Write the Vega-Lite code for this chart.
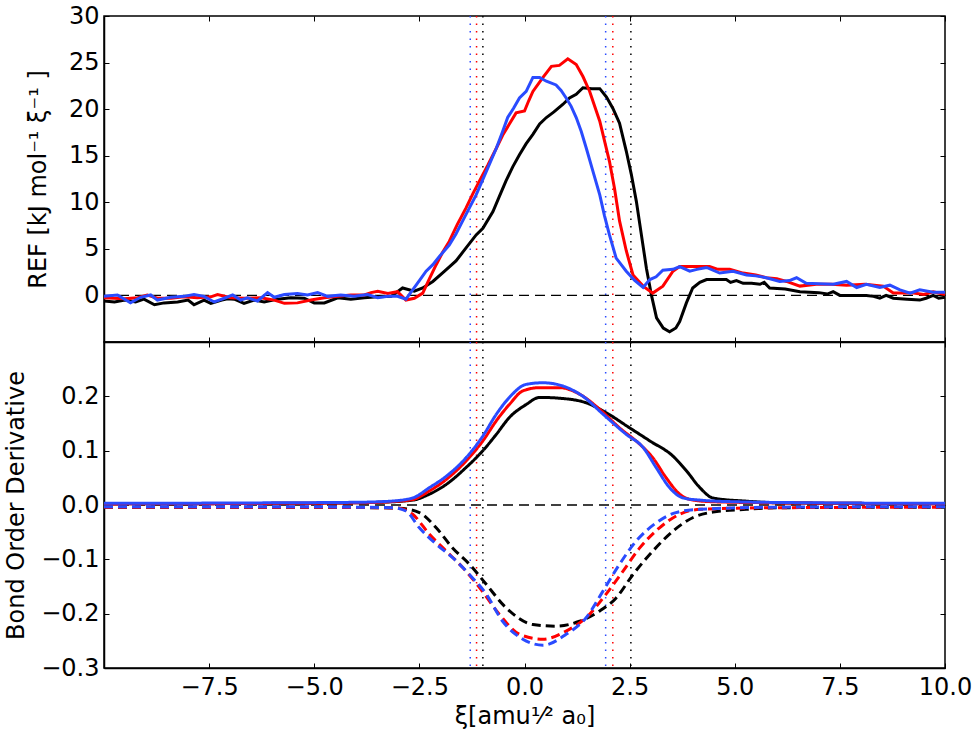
{
  "$schema": "https://vega.github.io/schema/vega-lite/v6.json",
  "background": "white",
  "padding": {"left": 3, "top": 3, "right": 30, "bottom": 5},
  "config": {
    "font": "DejaVu Sans",
    "view": {"stroke": "#000", "strokeWidth": 1.5},
    "axis": {
      "grid": false,
      "labelFont": "DejaVu Sans",
      "labelFontSize": 24,
      "labelColor": "#000",
      "labelPadding": 10,
      "labelFlush": false,
      "labelOverlap": false,
      "titleFont": "DejaVu Sans",
      "titleFontSize": 24,
      "titleFontWeight": "normal",
      "titleColor": "#000",
      "tickColor": "#000",
      "tickSize": -5,
      "tickWidth": 1,
      "domainColor": "#000",
      "domainWidth": 1.5
    },
    "legend": {"disable": true}
  },
  "datasets": {
    "vl": [
      {"x": -1.29, "s": "b"}, {"x": -1.14, "s": "r"}, {"x": -0.99, "s": "k"},
      {"x": 1.93, "s": "b"}, {"x": 2.1, "s": "r"}, {"x": 2.53, "s": "k"}
    ],
    "ref": [
      {"x": -10, "v": -0.6, "s": "k"}, {"x": -9.75, "v": -0.7, "s": "k"}, {"x": -9.5, "v": -0.5, "s": "k"}, {"x": -9.25, "v": -0.7, "s": "k"}, {"x": -9.05, "v": -0.4, "s": "k"}, {"x": -8.8, "v": -1.0, "s": "k"}, {"x": -8.57, "v": -0.8, "s": "k"}, {"x": -8.25, "v": -0.7, "s": "k"}, {"x": -8.0, "v": -0.5, "s": "k"}, {"x": -7.86, "v": -1.0, "s": "k"}, {"x": -7.62, "v": -0.5, "s": "k"}, {"x": -7.46, "v": -0.85, "s": "k"}, {"x": -7.2, "v": -0.5, "s": "k"}, {"x": -7.06, "v": -0.35, "s": "k"}, {"x": -6.9, "v": -0.4, "s": "k"}, {"x": -6.67, "v": -0.85, "s": "k"}, {"x": -6.43, "v": -0.5, "s": "k"}, {"x": -6.19, "v": -0.7, "s": "k"}, {"x": -5.87, "v": -0.4, "s": "k"}, {"x": -5.56, "v": -0.25, "s": "k"}, {"x": -5.24, "v": -0.3, "s": "k"}, {"x": -5.0, "v": -0.8, "s": "k"}, {"x": -4.76, "v": -0.8, "s": "k"}, {"x": -4.44, "v": -0.25, "s": "k"}, {"x": -4.13, "v": -0.4, "s": "k"}, {"x": -3.81, "v": -0.25, "s": "k"}, {"x": -3.49, "v": -0.15, "s": "k"}, {"x": -3.17, "v": -0.1, "s": "k"}, {"x": -2.9, "v": 0.8, "s": "k"}, {"x": -2.62, "v": 0.45, "s": "k"}, {"x": -2.42, "v": 0.8, "s": "k"}, {"x": -2.18, "v": 1.5, "s": "k"}, {"x": -1.9, "v": 2.6, "s": "k"}, {"x": -1.63, "v": 3.7, "s": "k"}, {"x": -1.39, "v": 5.1, "s": "k"}, {"x": -1.15, "v": 6.5, "s": "k"}, {"x": -0.99, "v": 7.2, "s": "k"}, {"x": -0.75, "v": 9.0, "s": "k"}, {"x": -0.6, "v": 10.6, "s": "k"}, {"x": -0.44, "v": 12.3, "s": "k"}, {"x": -0.28, "v": 13.8, "s": "k"}, {"x": -0.12, "v": 15.1, "s": "k"}, {"x": 0.04, "v": 16.3, "s": "k"}, {"x": 0.2, "v": 17.3, "s": "k"}, {"x": 0.36, "v": 18.4, "s": "k"}, {"x": 0.52, "v": 19.1, "s": "k"}, {"x": 0.7, "v": 19.7, "s": "k"}, {"x": 0.91, "v": 20.5, "s": "k"}, {"x": 1.07, "v": 21.2, "s": "k"}, {"x": 1.23, "v": 21.6, "s": "k"}, {"x": 1.39, "v": 22.3, "s": "k"}, {"x": 1.6, "v": 22.2, "s": "k"}, {"x": 1.79, "v": 22.2, "s": "k"}, {"x": 1.95, "v": 21.3, "s": "k"}, {"x": 2.1, "v": 20.1, "s": "k"}, {"x": 2.26, "v": 18.5, "s": "k"}, {"x": 2.42, "v": 15.5, "s": "k"}, {"x": 2.54, "v": 13.0, "s": "k"}, {"x": 2.66, "v": 10.1, "s": "k"}, {"x": 2.78, "v": 6.5, "s": "k"}, {"x": 2.9, "v": 2.9, "s": "k"}, {"x": 3.02, "v": 0.0, "s": "k"}, {"x": 3.14, "v": -2.4, "s": "k"}, {"x": 3.3, "v": -3.5, "s": "k"}, {"x": 3.45, "v": -3.9, "s": "k"}, {"x": 3.6, "v": -3.5, "s": "k"}, {"x": 3.69, "v": -2.8, "s": "k"}, {"x": 3.85, "v": -0.8, "s": "k"}, {"x": 4.0, "v": 0.8, "s": "k"}, {"x": 4.17, "v": 1.4, "s": "k"}, {"x": 4.33, "v": 1.7, "s": "k"}, {"x": 4.8, "v": 1.7, "s": "k"}, {"x": 4.9, "v": 1.4, "s": "k"}, {"x": 5.04, "v": 1.6, "s": "k"}, {"x": 5.2, "v": 1.3, "s": "k"}, {"x": 5.4, "v": 1.3, "s": "k"}, {"x": 5.6, "v": 1.2, "s": "k"}, {"x": 5.7, "v": 1.4, "s": "k"}, {"x": 5.83, "v": 0.8, "s": "k"}, {"x": 6.2, "v": 0.7, "s": "k"}, {"x": 6.55, "v": 0.4, "s": "k"}, {"x": 7.0, "v": 0.3, "s": "k"}, {"x": 7.2, "v": 0.15, "s": "k"}, {"x": 7.34, "v": 0.4, "s": "k"}, {"x": 7.5, "v": 0.0, "s": "k"}, {"x": 8.13, "v": 0.0, "s": "k"}, {"x": 8.3, "v": -0.1, "s": "k"}, {"x": 8.45, "v": -0.3, "s": "k"}, {"x": 8.6, "v": 0.0, "s": "k"}, {"x": 8.77, "v": -0.3, "s": "k"}, {"x": 9.1, "v": -0.4, "s": "k"}, {"x": 9.4, "v": -0.5, "s": "k"}, {"x": 9.55, "v": -0.3, "s": "k"}, {"x": 9.72, "v": 0.0, "s": "k"}, {"x": 9.85, "v": -0.3, "s": "k"}, {"x": 10, "v": -0.2, "s": "k"},
      {"x": -10, "v": -0.25, "s": "r"}, {"x": -9.75, "v": -0.3, "s": "r"}, {"x": -9.52, "v": -0.35, "s": "r"}, {"x": -9.2, "v": -0.25, "s": "r"}, {"x": -8.97, "v": 0.05, "s": "r"}, {"x": -8.73, "v": -0.3, "s": "r"}, {"x": -8.41, "v": -0.3, "s": "r"}, {"x": -8.1, "v": -0.15, "s": "r"}, {"x": -7.78, "v": -0.25, "s": "r"}, {"x": -7.46, "v": -0.15, "s": "r"}, {"x": -7.3, "v": 0.1, "s": "r"}, {"x": -6.98, "v": -0.25, "s": "r"}, {"x": -6.67, "v": -0.3, "s": "r"}, {"x": -6.27, "v": -0.25, "s": "r"}, {"x": -5.95, "v": -0.5, "s": "r"}, {"x": -5.71, "v": -0.85, "s": "r"}, {"x": -5.4, "v": -0.8, "s": "r"}, {"x": -5.08, "v": -0.5, "s": "r"}, {"x": -4.76, "v": -0.25, "s": "r"}, {"x": -4.44, "v": -0.1, "s": "r"}, {"x": -4.13, "v": 0.05, "s": "r"}, {"x": -3.81, "v": 0.05, "s": "r"}, {"x": -3.65, "v": 0.3, "s": "r"}, {"x": -3.49, "v": 0.45, "s": "r"}, {"x": -3.25, "v": 0.2, "s": "r"}, {"x": -3.02, "v": 0.4, "s": "r"}, {"x": -2.82, "v": -0.5, "s": "r"}, {"x": -2.62, "v": -0.3, "s": "r"}, {"x": -2.42, "v": 0.25, "s": "r"}, {"x": -2.26, "v": 1.8, "s": "r"}, {"x": -2.1, "v": 3.3, "s": "r"}, {"x": -1.95, "v": 4.6, "s": "r"}, {"x": -1.79, "v": 5.8, "s": "r"}, {"x": -1.6, "v": 7.6, "s": "r"}, {"x": -1.39, "v": 9.4, "s": "r"}, {"x": -1.23, "v": 10.9, "s": "r"}, {"x": -1.07, "v": 12.3, "s": "r"}, {"x": -0.87, "v": 14.0, "s": "r"}, {"x": -0.67, "v": 15.8, "s": "r"}, {"x": -0.52, "v": 17.2, "s": "r"}, {"x": -0.36, "v": 18.4, "s": "r"}, {"x": -0.2, "v": 19.6, "s": "r"}, {"x": 0.0, "v": 19.8, "s": "r"}, {"x": 0.1, "v": 20.9, "s": "r"}, {"x": 0.2, "v": 21.9, "s": "r"}, {"x": 0.44, "v": 23.4, "s": "r"}, {"x": 0.64, "v": 24.6, "s": "r"}, {"x": 0.83, "v": 24.7, "s": "r"}, {"x": 1.03, "v": 25.4, "s": "r"}, {"x": 1.23, "v": 24.8, "s": "r"}, {"x": 1.39, "v": 23.5, "s": "r"}, {"x": 1.55, "v": 21.9, "s": "r"}, {"x": 1.79, "v": 18.7, "s": "r"}, {"x": 2.02, "v": 14.4, "s": "r"}, {"x": 2.14, "v": 11.5, "s": "r"}, {"x": 2.26, "v": 8.0, "s": "r"}, {"x": 2.42, "v": 4.8, "s": "r"}, {"x": 2.58, "v": 2.2, "s": "r"}, {"x": 2.82, "v": 1.0, "s": "r"}, {"x": 3.05, "v": 0.25, "s": "r"}, {"x": 3.29, "v": 1.0, "s": "r"}, {"x": 3.53, "v": 2.6, "s": "r"}, {"x": 3.69, "v": 3.1, "s": "r"}, {"x": 4.4, "v": 3.1, "s": "r"}, {"x": 4.6, "v": 2.8, "s": "r"}, {"x": 4.88, "v": 2.8, "s": "r"}, {"x": 5.2, "v": 2.4, "s": "r"}, {"x": 5.5, "v": 2.2, "s": "r"}, {"x": 5.75, "v": 1.9, "s": "r"}, {"x": 6.0, "v": 1.8, "s": "r"}, {"x": 6.23, "v": 1.5, "s": "r"}, {"x": 6.55, "v": 1.0, "s": "r"}, {"x": 6.94, "v": 1.2, "s": "r"}, {"x": 7.3, "v": 1.2, "s": "r"}, {"x": 7.66, "v": 1.1, "s": "r"}, {"x": 8.1, "v": 1.2, "s": "r"}, {"x": 8.53, "v": 1.0, "s": "r"}, {"x": 8.77, "v": 0.25, "s": "r"}, {"x": 9.25, "v": 0.25, "s": "r"}, {"x": 9.5, "v": 0.1, "s": "r"}, {"x": 9.72, "v": 0.4, "s": "r"}, {"x": 10, "v": 0.1, "s": "r"},
      {"x": -10, "v": -0.1, "s": "b"}, {"x": -9.68, "v": 0.05, "s": "b"}, {"x": -9.37, "v": -0.8, "s": "b"}, {"x": -9.13, "v": -0.2, "s": "b"}, {"x": -8.89, "v": 0.05, "s": "b"}, {"x": -8.73, "v": -0.5, "s": "b"}, {"x": -8.41, "v": -0.2, "s": "b"}, {"x": -8.1, "v": -0.1, "s": "b"}, {"x": -7.86, "v": 0.1, "s": "b"}, {"x": -7.62, "v": -0.1, "s": "b"}, {"x": -7.38, "v": -0.7, "s": "b"}, {"x": -7.14, "v": -0.3, "s": "b"}, {"x": -6.94, "v": 0.05, "s": "b"}, {"x": -6.75, "v": -0.5, "s": "b"}, {"x": -6.59, "v": -0.25, "s": "b"}, {"x": -6.35, "v": -0.6, "s": "b"}, {"x": -6.11, "v": 0.3, "s": "b"}, {"x": -5.95, "v": -0.2, "s": "b"}, {"x": -5.71, "v": 0.1, "s": "b"}, {"x": -5.4, "v": 0.2, "s": "b"}, {"x": -5.16, "v": 0.05, "s": "b"}, {"x": -4.92, "v": 0.3, "s": "b"}, {"x": -4.68, "v": -0.1, "s": "b"}, {"x": -4.37, "v": 0.05, "s": "b"}, {"x": -4.05, "v": -0.1, "s": "b"}, {"x": -3.73, "v": 0.1, "s": "b"}, {"x": -3.49, "v": -0.25, "s": "b"}, {"x": -3.25, "v": -0.1, "s": "b"}, {"x": -3.02, "v": -0.1, "s": "b"}, {"x": -2.82, "v": -0.4, "s": "b"}, {"x": -2.66, "v": 0.6, "s": "b"}, {"x": -2.5, "v": 1.6, "s": "b"}, {"x": -2.34, "v": 2.6, "s": "b"}, {"x": -2.18, "v": 3.3, "s": "b"}, {"x": -2.02, "v": 4.2, "s": "b"}, {"x": -1.79, "v": 5.4, "s": "b"}, {"x": -1.63, "v": 6.6, "s": "b"}, {"x": -1.47, "v": 8.0, "s": "b"}, {"x": -1.31, "v": 9.4, "s": "b"}, {"x": -1.15, "v": 10.8, "s": "b"}, {"x": -0.91, "v": 13.3, "s": "b"}, {"x": -0.67, "v": 15.8, "s": "b"}, {"x": -0.52, "v": 17.6, "s": "b"}, {"x": -0.4, "v": 19.1, "s": "b"}, {"x": -0.26, "v": 20.1, "s": "b"}, {"x": -0.12, "v": 21.2, "s": "b"}, {"x": 0.04, "v": 21.9, "s": "b"}, {"x": 0.2, "v": 23.4, "s": "b"}, {"x": 0.36, "v": 23.4, "s": "b"}, {"x": 0.52, "v": 23.0, "s": "b"}, {"x": 0.75, "v": 22.6, "s": "b"}, {"x": 0.87, "v": 22.0, "s": "b"}, {"x": 0.99, "v": 21.2, "s": "b"}, {"x": 1.11, "v": 20.3, "s": "b"}, {"x": 1.23, "v": 19.1, "s": "b"}, {"x": 1.35, "v": 17.6, "s": "b"}, {"x": 1.47, "v": 15.8, "s": "b"}, {"x": 1.63, "v": 13.3, "s": "b"}, {"x": 1.79, "v": 10.8, "s": "b"}, {"x": 1.9, "v": 8.6, "s": "b"}, {"x": 2.02, "v": 6.5, "s": "b"}, {"x": 2.18, "v": 4.0, "s": "b"}, {"x": 2.42, "v": 2.6, "s": "b"}, {"x": 2.62, "v": 1.6, "s": "b"}, {"x": 2.82, "v": 0.85, "s": "b"}, {"x": 2.98, "v": 1.7, "s": "b"}, {"x": 3.13, "v": 2.0, "s": "b"}, {"x": 3.29, "v": 2.7, "s": "b"}, {"x": 3.53, "v": 2.8, "s": "b"}, {"x": 3.69, "v": 3.1, "s": "b"}, {"x": 3.93, "v": 2.6, "s": "b"}, {"x": 4.1, "v": 2.8, "s": "b"}, {"x": 4.33, "v": 3.0, "s": "b"}, {"x": 4.64, "v": 2.4, "s": "b"}, {"x": 4.96, "v": 2.6, "s": "b"}, {"x": 5.28, "v": 2.2, "s": "b"}, {"x": 5.5, "v": 2.1, "s": "b"}, {"x": 5.75, "v": 1.9, "s": "b"}, {"x": 6.07, "v": 1.5, "s": "b"}, {"x": 6.3, "v": 1.6, "s": "b"}, {"x": 6.47, "v": 1.9, "s": "b"}, {"x": 6.7, "v": 1.3, "s": "b"}, {"x": 7.0, "v": 1.25, "s": "b"}, {"x": 7.34, "v": 1.2, "s": "b"}, {"x": 7.66, "v": 1.5, "s": "b"}, {"x": 7.9, "v": 0.85, "s": "b"}, {"x": 8.13, "v": 1.2, "s": "b"}, {"x": 8.45, "v": 0.85, "s": "b"}, {"x": 8.69, "v": 1.1, "s": "b"}, {"x": 8.93, "v": 0.6, "s": "b"}, {"x": 9.17, "v": 0.25, "s": "b"}, {"x": 9.4, "v": 0.6, "s": "b"}, {"x": 9.72, "v": 0.35, "s": "b"}, {"x": 10, "v": 0.35, "s": "b"}
    ],
    "bo": [
      {"x": -10, "v": 0.002, "s": "k", "p": "pos"}, {"x": -6, "v": 0.003, "s": "k", "p": "pos"}, {"x": -4, "v": 0.004, "s": "k", "p": "pos"}, {"x": -3.45, "v": 0.005, "s": "k", "p": "pos"}, {"x": -2.66, "v": 0.009, "s": "k", "p": "pos"}, {"x": -2.26, "v": 0.02, "s": "k", "p": "pos"}, {"x": -1.86, "v": 0.038, "s": "k", "p": "pos"}, {"x": -1.39, "v": 0.069, "s": "k", "p": "pos"}, {"x": -0.99, "v": 0.1, "s": "k", "p": "pos"}, {"x": -0.67, "v": 0.13, "s": "k", "p": "pos"}, {"x": -0.36, "v": 0.161, "s": "k", "p": "pos"}, {"x": 0.04, "v": 0.185, "s": "k", "p": "pos"}, {"x": 0.36, "v": 0.198, "s": "k", "p": "pos"}, {"x": 0.91, "v": 0.196, "s": "k", "p": "pos"}, {"x": 1.47, "v": 0.188, "s": "k", "p": "pos"}, {"x": 1.94, "v": 0.17, "s": "k", "p": "pos"}, {"x": 2.5, "v": 0.142, "s": "k", "p": "pos"}, {"x": 2.98, "v": 0.118, "s": "k", "p": "pos"}, {"x": 3.53, "v": 0.09, "s": "k", "p": "pos"}, {"x": 3.85, "v": 0.063, "s": "k", "p": "pos"}, {"x": 4.17, "v": 0.032, "s": "k", "p": "pos"}, {"x": 4.48, "v": 0.013, "s": "k", "p": "pos"}, {"x": 5.28, "v": 0.007, "s": "k", "p": "pos"}, {"x": 6.07, "v": 0.004, "s": "k", "p": "pos"}, {"x": 8, "v": 0.003, "s": "k", "p": "pos"}, {"x": 10, "v": 0.002, "s": "k", "p": "pos"},
      {"x": -10, "v": -0.004, "s": "k", "p": "neg"}, {"x": -6, "v": -0.004, "s": "k", "p": "neg"}, {"x": -3.45, "v": -0.005, "s": "k", "p": "neg"}, {"x": -2.98, "v": -0.006, "s": "k", "p": "neg"}, {"x": -2.5, "v": -0.014, "s": "k", "p": "neg"}, {"x": -2.1, "v": -0.042, "s": "k", "p": "neg"}, {"x": -1.71, "v": -0.079, "s": "k", "p": "neg"}, {"x": -1.31, "v": -0.109, "s": "k", "p": "neg"}, {"x": -0.91, "v": -0.146, "s": "k", "p": "neg"}, {"x": -0.44, "v": -0.189, "s": "k", "p": "neg"}, {"x": 0.2, "v": -0.22, "s": "k", "p": "neg"}, {"x": 0.75, "v": -0.223, "s": "k", "p": "neg"}, {"x": 1.31, "v": -0.214, "s": "k", "p": "neg"}, {"x": 1.79, "v": -0.195, "s": "k", "p": "neg"}, {"x": 2.18, "v": -0.171, "s": "k", "p": "neg"}, {"x": 2.58, "v": -0.128, "s": "k", "p": "neg"}, {"x": 3.05, "v": -0.085, "s": "k", "p": "neg"}, {"x": 3.53, "v": -0.048, "s": "k", "p": "neg"}, {"x": 4.01, "v": -0.023, "s": "k", "p": "neg"}, {"x": 4.48, "v": -0.013, "s": "k", "p": "neg"}, {"x": 5.28, "v": -0.008, "s": "k", "p": "neg"}, {"x": 6.07, "v": -0.005, "s": "k", "p": "neg"}, {"x": 10, "v": -0.004, "s": "k", "p": "neg"},
      {"x": -10, "v": 0.002, "s": "r", "p": "pos"}, {"x": -6, "v": 0.003, "s": "r", "p": "pos"}, {"x": -4, "v": 0.004, "s": "r", "p": "pos"}, {"x": -3.2, "v": 0.006, "s": "r", "p": "pos"}, {"x": -2.66, "v": 0.01, "s": "r", "p": "pos"}, {"x": -2.26, "v": 0.026, "s": "r", "p": "pos"}, {"x": -1.86, "v": 0.047, "s": "r", "p": "pos"}, {"x": -1.39, "v": 0.081, "s": "r", "p": "pos"}, {"x": -0.99, "v": 0.118, "s": "r", "p": "pos"}, {"x": -0.67, "v": 0.155, "s": "r", "p": "pos"}, {"x": -0.36, "v": 0.185, "s": "r", "p": "pos"}, {"x": -0.04, "v": 0.21, "s": "r", "p": "pos"}, {"x": 0.36, "v": 0.216, "s": "r", "p": "pos"}, {"x": 0.83, "v": 0.216, "s": "r", "p": "pos"}, {"x": 1.31, "v": 0.204, "s": "r", "p": "pos"}, {"x": 1.79, "v": 0.176, "s": "r", "p": "pos"}, {"x": 2.26, "v": 0.142, "s": "r", "p": "pos"}, {"x": 2.74, "v": 0.112, "s": "r", "p": "pos"}, {"x": 3.05, "v": 0.087, "s": "r", "p": "pos"}, {"x": 3.37, "v": 0.05, "s": "r", "p": "pos"}, {"x": 3.69, "v": 0.02, "s": "r", "p": "pos"}, {"x": 4.01, "v": 0.009, "s": "r", "p": "pos"}, {"x": 4.48, "v": 0.006, "s": "r", "p": "pos"}, {"x": 6, "v": 0.004, "s": "r", "p": "pos"}, {"x": 8, "v": 0.003, "s": "r", "p": "pos"}, {"x": 10, "v": 0.002, "s": "r", "p": "pos"},
      {"x": -10, "v": -0.004, "s": "r", "p": "neg"}, {"x": -6, "v": -0.004, "s": "r", "p": "neg"}, {"x": -3.3, "v": -0.005, "s": "r", "p": "neg"}, {"x": -2.98, "v": -0.006, "s": "r", "p": "neg"}, {"x": -2.66, "v": -0.017, "s": "r", "p": "neg"}, {"x": -2.26, "v": -0.054, "s": "r", "p": "neg"}, {"x": -1.86, "v": -0.085, "s": "r", "p": "neg"}, {"x": -1.47, "v": -0.115, "s": "r", "p": "neg"}, {"x": -1.07, "v": -0.152, "s": "r", "p": "neg"}, {"x": -0.6, "v": -0.201, "s": "r", "p": "neg"}, {"x": -0.12, "v": -0.238, "s": "r", "p": "neg"}, {"x": 0.44, "v": -0.247, "s": "r", "p": "neg"}, {"x": 0.99, "v": -0.232, "s": "r", "p": "neg"}, {"x": 1.47, "v": -0.207, "s": "r", "p": "neg"}, {"x": 1.94, "v": -0.164, "s": "r", "p": "neg"}, {"x": 2.34, "v": -0.122, "s": "r", "p": "neg"}, {"x": 2.74, "v": -0.079, "s": "r", "p": "neg"}, {"x": 3.21, "v": -0.042, "s": "r", "p": "neg"}, {"x": 3.69, "v": -0.017, "s": "r", "p": "neg"}, {"x": 4.17, "v": -0.008, "s": "r", "p": "neg"}, {"x": 6, "v": -0.005, "s": "r", "p": "neg"}, {"x": 10, "v": -0.004, "s": "r", "p": "neg"},
      {"x": -10, "v": 0.003, "s": "b", "p": "pos"}, {"x": -6, "v": 0.004, "s": "b", "p": "pos"}, {"x": -4, "v": 0.005, "s": "b", "p": "pos"}, {"x": -3.2, "v": 0.007, "s": "b", "p": "pos"}, {"x": -2.66, "v": 0.013, "s": "b", "p": "pos"}, {"x": -2.26, "v": 0.032, "s": "b", "p": "pos"}, {"x": -1.86, "v": 0.053, "s": "b", "p": "pos"}, {"x": -1.39, "v": 0.087, "s": "b", "p": "pos"}, {"x": -0.99, "v": 0.127, "s": "b", "p": "pos"}, {"x": -0.67, "v": 0.167, "s": "b", "p": "pos"}, {"x": -0.36, "v": 0.198, "s": "b", "p": "pos"}, {"x": 0.04, "v": 0.222, "s": "b", "p": "pos"}, {"x": 0.44, "v": 0.225, "s": "b", "p": "pos"}, {"x": 0.91, "v": 0.219, "s": "b", "p": "pos"}, {"x": 1.39, "v": 0.2, "s": "b", "p": "pos"}, {"x": 1.87, "v": 0.167, "s": "b", "p": "pos"}, {"x": 2.42, "v": 0.13, "s": "b", "p": "pos"}, {"x": 2.82, "v": 0.106, "s": "b", "p": "pos"}, {"x": 3.13, "v": 0.069, "s": "b", "p": "pos"}, {"x": 3.45, "v": 0.032, "s": "b", "p": "pos"}, {"x": 3.77, "v": 0.013, "s": "b", "p": "pos"}, {"x": 4.17, "v": 0.009, "s": "b", "p": "pos"}, {"x": 5, "v": 0.006, "s": "b", "p": "pos"}, {"x": 7, "v": 0.004, "s": "b", "p": "pos"}, {"x": 10, "v": 0.003, "s": "b", "p": "pos"},
      {"x": -10, "v": -0.003, "s": "b", "p": "neg"}, {"x": -6, "v": -0.003, "s": "b", "p": "neg"}, {"x": -3.13, "v": -0.005, "s": "b", "p": "neg"}, {"x": -2.82, "v": -0.011, "s": "b", "p": "neg"}, {"x": -2.5, "v": -0.042, "s": "b", "p": "neg"}, {"x": -2.1, "v": -0.072, "s": "b", "p": "neg"}, {"x": -1.71, "v": -0.097, "s": "b", "p": "neg"}, {"x": -1.31, "v": -0.128, "s": "b", "p": "neg"}, {"x": -0.91, "v": -0.164, "s": "b", "p": "neg"}, {"x": -0.52, "v": -0.214, "s": "b", "p": "neg"}, {"x": -0.04, "v": -0.247, "s": "b", "p": "neg"}, {"x": 0.44, "v": -0.258, "s": "b", "p": "neg"}, {"x": 0.99, "v": -0.238, "s": "b", "p": "neg"}, {"x": 1.47, "v": -0.207, "s": "b", "p": "neg"}, {"x": 1.87, "v": -0.158, "s": "b", "p": "neg"}, {"x": 2.26, "v": -0.109, "s": "b", "p": "neg"}, {"x": 2.66, "v": -0.066, "s": "b", "p": "neg"}, {"x": 3.13, "v": -0.033, "s": "b", "p": "neg"}, {"x": 3.6, "v": -0.014, "s": "b", "p": "neg"}, {"x": 4.17, "v": -0.008, "s": "b", "p": "neg"}, {"x": 6, "v": -0.004, "s": "b", "p": "neg"}, {"x": 10, "v": -0.003, "s": "b", "p": "neg"}
    ]
  },
  "spacing": 0,
  "bounds": "flush",
  "resolve": {"scale": {"x": "independent", "y": "independent"}},
  "vconcat": [
    {
      "width": 841,
      "height": 326,
      "layer": [
        {
          "data": {"name": "vl"},
          "mark": {"type": "rule", "strokeDash": [1.5, 6], "strokeWidth": 1.5},
          "encoding": {
            "x": {"field": "x", "type": "quantitative", "scale": {"domain": [-10, 10], "nice": false, "zero": false},
              "axis": {"orient": "top", "labels": false, "title": null, "domain": false, "values": [-7.5, -5, -2.5, 0, 2.5, 5, 7.5, 10]}},
            "color": {"field": "s", "type": "nominal", "scale": {"domain": ["k", "r", "b"], "range": ["#000000", "#ff0000", "#2a4bff"]}, "legend": null}
          }
        },
        {
          "data": {"values": [{}]},
          "mark": {"type": "rule", "strokeDash": [10, 6], "strokeWidth": 1.3, "color": "#000"},
          "encoding": {
            "y": {"datum": 0, "type": "quantitative", "scale": {"domain": [-5, 30], "nice": false, "zero": false},
              "axis": {"orient": "right", "labels": false, "title": null, "domain": false, "values": [0, 5, 10, 15, 20, 25, 30]}}
          }
        },
        {
          "data": {"name": "ref"},
          "mark": {"type": "line", "strokeWidth": 3},
          "encoding": {
            "x": {"field": "x", "type": "quantitative", "scale": {"domain": [-10, 10], "nice": false, "zero": false},
              "axis": {"orient": "bottom", "labels": false, "title": null, "values": [-7.5, -5, -2.5, 0, 2.5, 5, 7.5, 10]}},
            "y": {"field": "v", "type": "quantitative", "scale": {"domain": [-5, 30], "nice": false, "zero": false},
              "axis": {"orient": "left", "title": "REF [kJ mol⁻¹ ξ⁻¹  ]", "titlePadding": 18, "values": [0, 5, 10, 15, 20, 25, 30]}},
            "color": {"field": "s", "type": "nominal", "scale": {"domain": ["k", "r", "b"], "range": ["#000000", "#ff0000", "#2a4bff"]}, "legend": null}
          }
        }
      ],
      "resolve": {"axis": {"x": "independent", "y": "independent"}}
    },
    {
      "width": 841,
      "height": 326,
      "layer": [
        {
          "data": {"name": "vl"},
          "mark": {"type": "rule", "strokeDash": [1.5, 6], "strokeWidth": 1.5},
          "encoding": {
            "x": {"field": "x", "type": "quantitative", "scale": {"domain": [-10, 10], "nice": false, "zero": false},
              "axis": {"orient": "top", "labels": false, "title": null, "domain": false, "values": [-7.5, -5, -2.5, 0, 2.5, 5, 7.5, 10]}},
            "color": {"field": "s", "type": "nominal", "scale": {"domain": ["k", "r", "b"], "range": ["#000000", "#ff0000", "#2a4bff"]}, "legend": null}
          }
        },
        {
          "data": {"values": [{}]},
          "mark": {"type": "rule", "strokeDash": [10, 6], "strokeWidth": 1.3, "color": "#000"},
          "encoding": {
            "y": {"datum": 0, "type": "quantitative", "scale": {"domain": [-0.3, 0.3], "nice": false, "zero": false},
              "axis": {"orient": "right", "labels": false, "title": null, "domain": false, "values": [-0.3, -0.2, -0.1, 0, 0.1, 0.2]}}
          }
        },
        {
          "data": {"name": "bo"},
          "mark": {"type": "line", "strokeWidth": 3, "interpolate": "monotone"},
          "encoding": {
            "x": {"field": "x", "type": "quantitative", "scale": {"domain": [-10, 10], "nice": false, "zero": false},
              "axis": {"orient": "bottom", "title": "ξ[amu¹⁄² a₀]", "titlePadding": 5, "labelPadding": 12, "format": ".1f", "values": [-7.5, -5, -2.5, 0, 2.5, 5, 7.5, 10]}},
            "y": {"field": "v", "type": "quantitative", "scale": {"domain": [-0.3, 0.3], "nice": false, "zero": false},
              "axis": {"orient": "left", "title": "Bond Order Derivative", "titlePadding": 12, "format": ".1f", "values": [-0.3, -0.2, -0.1, 0, 0.1, 0.2]}},
            "color": {"field": "s", "type": "nominal", "scale": {"domain": ["k", "r", "b"], "range": ["#000000", "#ff0000", "#2a4bff"]}, "legend": null},
            "strokeDash": {"field": "p", "type": "nominal", "scale": {"domain": ["pos", "neg"], "range": [[1, 0], [9, 5]]}, "legend": null},
            "detail": {"field": "p"}
          }
        }
      ],
      "resolve": {"axis": {"x": "independent", "y": "independent"}}
    }
  ]
}
